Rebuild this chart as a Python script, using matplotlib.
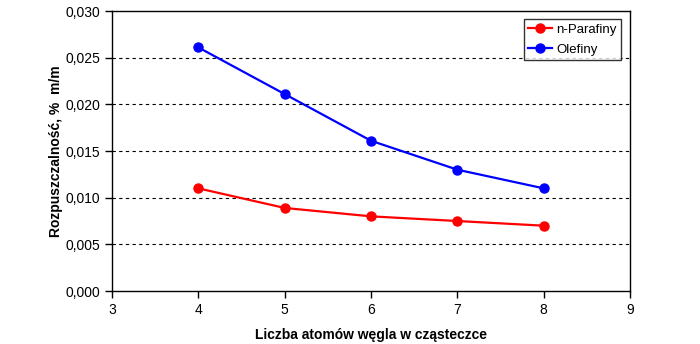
import matplotlib
matplotlib.use('Agg')
import matplotlib.pyplot as plt
from matplotlib.ticker import FuncFormatter

plt.rcParams['font.family'] = ['Liberation Sans', 'DejaVu Sans']

# dane
liczba_atomow = [4, 5, 6, 7, 8]
n_parafiny = [0.0110, 0.0089, 0.0080, 0.0075, 0.0070]
olefiny = [0.0261, 0.0211, 0.0161, 0.0130, 0.0110]

fig = plt.figure(figsize=(7, 3.44), dpi=100)
ax = fig.add_axes([0.16, 0.154, 0.74, 0.814])

ax.plot(liczba_atomow, n_parafiny, color='#ff0000', marker='o', markersize=6.5, lw=1.6, label='n-Parafiny')
ax.plot(liczba_atomow, olefiny, color='#0000ff', marker='o', markersize=6.5, lw=1.6, label='Olefiny')

ax.set_xlim(3, 9)
ax.set_ylim(0, 0.030)
ax.set_xticks(range(3, 10))
ax.set_yticks([0, 0.005, 0.010, 0.015, 0.020, 0.025, 0.030])
ax.yaxis.set_major_formatter(FuncFormatter(lambda v, p: ('%.3f' % v).replace('.', ',')))

# siatka przerywana (bez 0 i 0,030)
for y in [0.005, 0.010, 0.015, 0.020, 0.025]:
    ax.axhline(y, color='black', ls=(0, (3, 3)), lw=0.8, zorder=0)

for s in ax.spines.values():
    s.set_linewidth(1.0)
ax.tick_params(direction='out', length=5, width=1, labelsize=10, colors='black')

ax.set_xlabel('Liczba atomów węgla w cząsteczce', fontsize=10, fontweight='bold', labelpad=8)
ax.set_ylabel('Rozpuszczalność, %  m/m', fontsize=10, fontweight='bold', labelpad=2)

leg = ax.legend(loc='upper right', bbox_to_anchor=(0.988, 0.98), fontsize=9.5, frameon=True, fancybox=False,
                edgecolor='black', handlelength=1.8, handletextpad=0.3, borderpad=0.35,
                labelspacing=0.55, borderaxespad=0.2)
leg.get_frame().set_linewidth(1.0)

fig.savefig('out.png', dpi=100)
